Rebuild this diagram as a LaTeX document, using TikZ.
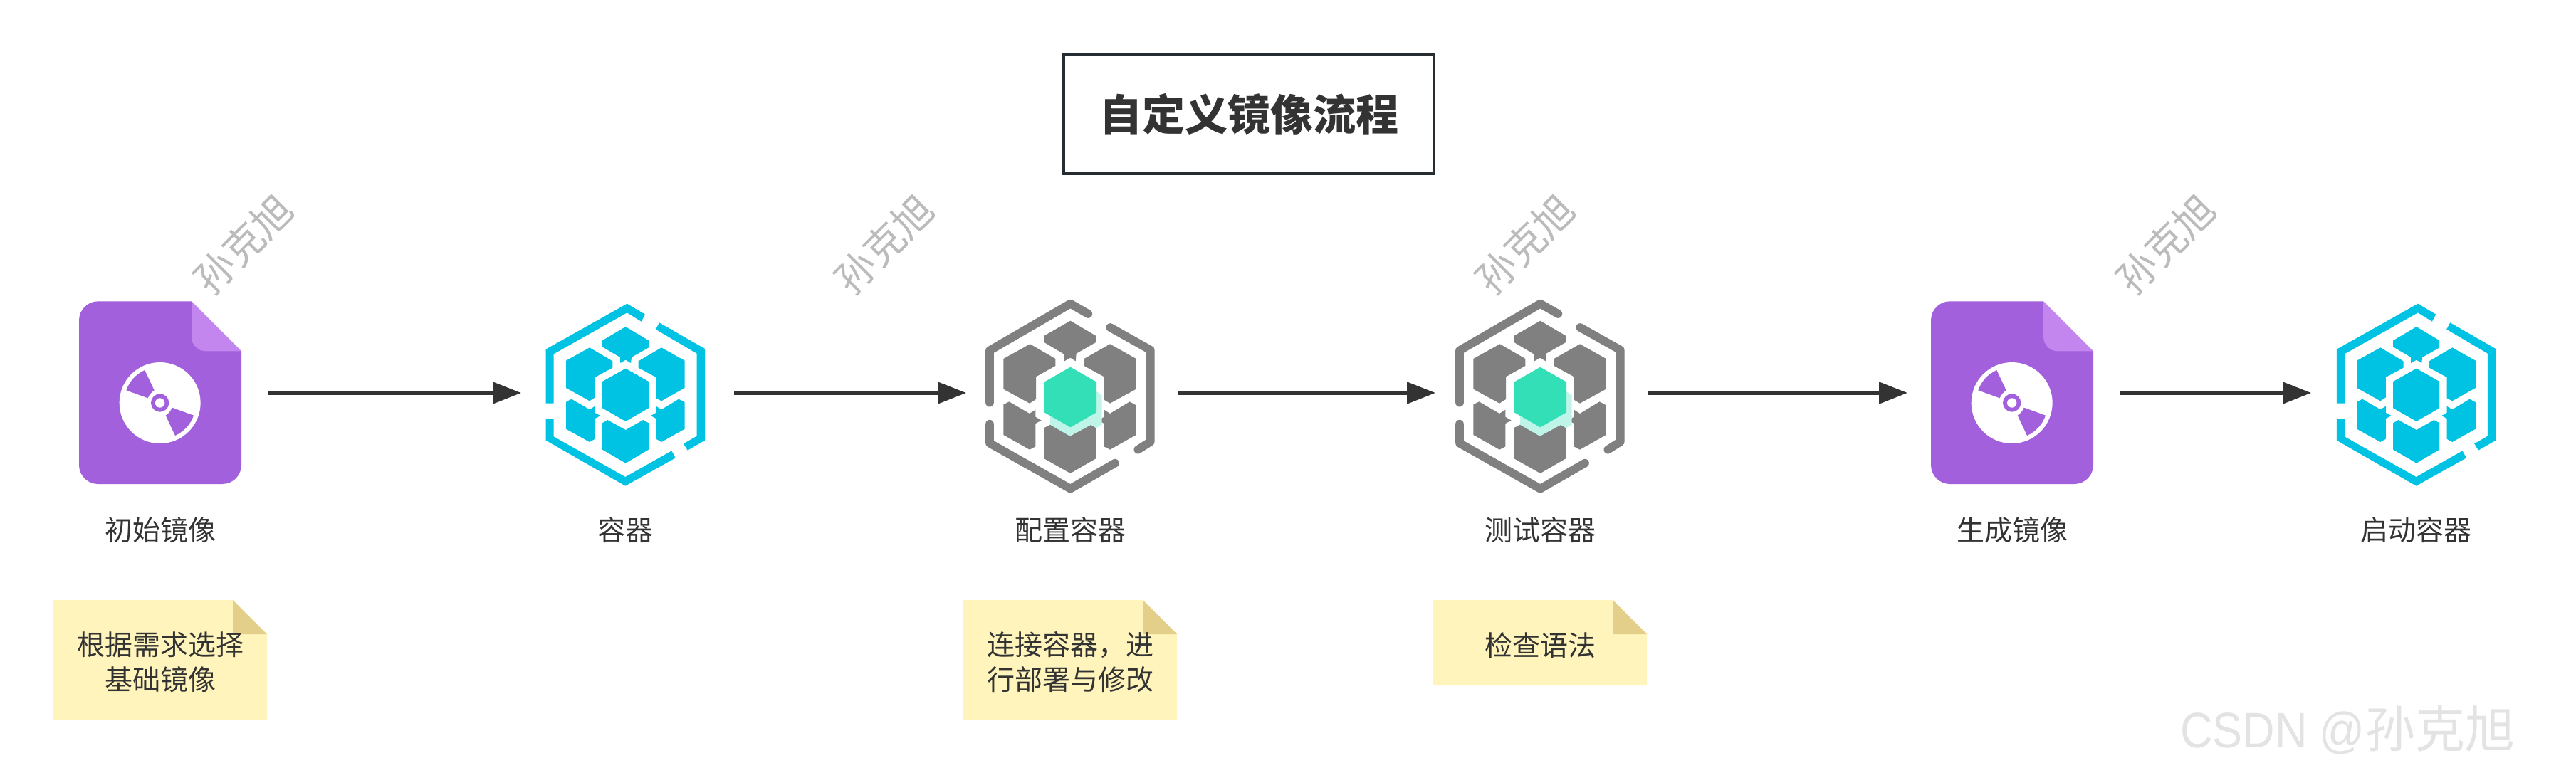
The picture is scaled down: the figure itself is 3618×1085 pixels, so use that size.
\documentclass[tikz,border=0pt]{standalone}
\usepackage{fontspec}
\usepackage{graphicx}
\usetikzlibrary{arrows.meta}
\setmainfont{Noto Sans CJK SC}
\newfontfamily\latinwm{Liberation Sans}
\definecolor{ink}{HTML}{333333}
\definecolor{framec}{HTML}{252D33}
\definecolor{docc}{HTML}{A260DC}
\definecolor{foldc}{HTML}{C286EE}
\definecolor{bluec}{HTML}{00C3E3}
\definecolor{grayc}{HTML}{808080}
\definecolor{tealc}{HTML}{32DFB6}
\definecolor{lighttealc}{HTML}{BFF5E8}
\definecolor{notec}{HTML}{FFF5BC}
\definecolor{notefold}{HTML}{E3CF8A}
\definecolor{wmc}{HTML}{BBBBBB}
\definecolor{csdnc}{HTML}{E3E3E3}
\tikzset{
  iconbox/.style={inner sep=0pt,outer sep=0pt,minimum height=250pt},
  lbl/.style={text=ink,inner sep=0pt,align=center,font=\fontsize{39}{49}\selectfont},
  flow/.style={draw=ink,line width=5pt,-{Triangle[length=40pt,width=30pt]}},
  wm/.style={text=wmc,rotate=45,inner sep=0pt,font=\fontsize{56}{56}\selectfont},
  zoomed/.style={x=0.33333pt,y=-0.33333pt},
  ring/.style={draw=grayc,line width=11.7pt,line cap=round,line join=round},
}
\newcommand{\docicon}[2]{%
\begin{scope}[shift={(#1,#2)},zoomed]
  \fill[docc] (233,130) -- (627,130) -- (837,340) -- (837,820) .. controls (837,864) and (801,900) .. (757,900)
    -- (233,900) .. controls (189,900) and (153,864) .. (153,820) -- (153,210) .. controls (153,166) and (189,130) .. (233,130) -- cycle;
  \fill[foldc] (627,130) -- (837,340) -- (687,340) .. controls (654,340) and (627,313) .. (627,280) -- cycle;
  \fill[white] (494,558) circle[radius=171];
  \fill[docc] (430,420) -- (470,505) .. controls (458,512) and (448,525) .. (443,538) -- (352,505) .. controls (366,466) and (392,438) .. (430,420) -- cycle;
  \fill[docc] (558,696) -- (518,611) .. controls (530,604) and (540,591) .. (545,578) -- (636,611) .. controls (622,650) and (596,678) .. (558,696) -- cycle;
  \fill[docc] (494,558) circle[radius=38];
  \fill[white] (494,558) circle[radius=20];
\end{scope}}
\newcommand{\bluehex}[2]{%
\begin{scope}[shift={(#1,#2)},zoomed]
  \fill[bluec] (498,125) -- (422,80) -- (80,272) -- (80,500) -- (113,500) -- (113,292) -- (422,118) -- (482,155) -- cycle;
  \fill[bluec] (558,160) -- (750,270) -- (750,656) -- (677,698) -- (660,670) -- (716,638) -- (716,290) -- (543,188) -- cycle;
  \fill[bluec] (80,565) -- (113,565) -- (113,640) -- (415,810) -- (610,700) -- (626,730) -- (415,848) -- (80,656) -- cycle;
  \fill[bluec] (416,177) -- (513,235) -- (513,265) -- (441,306) -- (438,330) -- (416,317) -- (393,330) -- (393,306) -- (318,262) -- (318,235) -- cycle;
  \fill[bluec] (264,265) -- (361,322) -- (361,350) -- (287,390) -- (287,475) -- (264,490) -- (165,435) -- (165,320) -- cycle;
  \fill[bluec] (567,265) -- (665,320) -- (665,435) -- (567,490) -- (544,478) -- (544,390) -- (470,350) -- (470,322) -- cycle;
  \fill[bluec] (416,353) -- (513,408) -- (513,520) -- (416,576) -- (318,520) -- (318,408) -- cycle;
  \fill[bluec] (188,482) -- (264,526) -- (287,512) -- (287,540) -- (310,552) -- (287,564) -- (287,650) -- (264,663) -- (165,608) -- (165,494) -- cycle;
  \fill[bluec] (640,482) -- (665,495) -- (665,608) -- (567,663) -- (544,650) -- (544,564) -- (522,552) -- (544,540) -- (544,512) -- (567,526) -- cycle;
  \fill[bluec] (340,570) -- (416,612) -- (490,570) -- (513,583) -- (513,695) -- (416,752) -- (318,695) -- (318,583) -- cycle;
\end{scope}}
\newcommand{\grayhex}[2]{%
\begin{scope}[shift={(#1,#2)},zoomed]
  \draw[ring] (505,123) -- (430,80) -- (90,277) -- (90,497);
  \draw[ring] (598,180) -- (767,275) -- (767,662) -- (715,695);
  \draw[ring] (90,587) -- (90,668) -- (430,860) -- (618,752);
  \fill[grayc] (430,152) -- (537,215) -- (537,243) -- (455,290) -- (452,322) -- (430,308) -- (405,322) -- (402,292) -- (320,243) -- (320,215) -- cycle;
  \fill[grayc] (260,250) -- (367,312) -- (367,342) -- (285,388) -- (285,483) -- (258,500) -- (148,440) -- (148,312) -- cycle;
  \fill[grayc] (597,250) -- (707,312) -- (707,440) -- (597,500) -- (572,485) -- (572,388) -- (488,342) -- (488,312) -- cycle;
  \fill[grayc] (172,493) -- (258,543) -- (283,527) -- (283,557) -- (308,572) -- (283,585) -- (283,682) -- (258,695) -- (148,633) -- (148,505) -- cycle;
  \fill[grayc] (680,493) -- (707,508) -- (707,633) -- (597,695) -- (572,682) -- (572,585) -- (548,572) -- (572,557) -- (572,527) -- (597,543) -- cycle;
  \fill[grayc] (320,603) -- (345,590) -- (430,638) -- (515,590) -- (537,603) -- (537,733) -- (430,795) -- (320,733) -- cycle;
  \fill[lighttealc] (540,450) -- (563,465) -- (563,590) -- (540,603) -- (518,590) -- (428,638) -- (345,590) -- (345,550) -- cycle;
  \fill[tealc] (430,347) -- (540,410) -- (540,538) -- (430,601) -- (320,538) -- (320,410) -- cycle;
\end{scope}}
\newcommand{\notepaper}[4]{% left, top, right, bottom
  \fill[notec] (#1,#2) -- (#3-48,#2) -- (#3,#2+48) -- (#3,#4) -- (#1,#4) -- cycle;
  \fill[notefold] (#3-48,#2) -- (#3,#2+48) -- (#3-48,#2+48) -- cycle;}
\begin{document}
\begin{tikzpicture}[x=1pt,y=-1pt]
\useasboundingbox (0,0) rectangle (3618,1085);
\fill[white] (0,0) rectangle (3618,1085);

\node[draw=framec,line width=4.5pt,minimum width=520pt,minimum height=168pt,inner sep=0pt,text=ink,font=\fontsize{60}{60}\selectfont\bfseries] (title) at (1754,160) {自定义镜像流程};

\docicon{60}{380}
\bluehex{740}{400}
\grayhex{1360}{400}
\grayhex{2020}{400}
\docicon{2661}{380}
\bluehex{3255.2}{400}

\node[iconbox,minimum width=228pt] (img1) at (225,552) {};
\node[iconbox,minimum width=223pt] (ctr1) at (878,552) {};
\node[iconbox,minimum width=238pt] (cfg) at (1503,552) {};
\node[iconbox,minimum width=238pt] (tst) at (2163,552) {};
\node[iconbox,minimum width=228pt] (img2) at (2826,552) {};
\node[iconbox,minimum width=223pt] (ctr2) at (3393.5,552) {};

\draw[flow,shorten <=38pt,shorten >=34.5pt] (img1.east) -- (ctr1.west);
\draw[flow,shorten <=41.5pt,shorten >=27pt] (ctr1.east) -- (cfg.west);
\draw[flow,shorten <=33pt,shorten >=28pt] (cfg.east) -- (tst.west);
\draw[flow,shorten <=33pt,shorten >=33pt] (tst.east) -- (img2.west);
\draw[flow,shorten <=38pt,shorten >=36pt] (img2.east) -- (ctr2.west);

\node[lbl] (l1) at (225,744.5) {初始镜像};
\node[lbl] (l2) at (878,744.5) {容器};
\node[lbl] (l3) at (1503,744.5) {配置容器};
\node[lbl] (l4) at (2163,744.5) {测试容器};
\node[lbl] (l5) at (2826,744.5) {生成镜像};
\node[lbl] (l6) at (3393,744.5) {启动容器};

\notepaper{75}{843}{375}{1011}
\notepaper{1353}{843}{1653}{1011}
\notepaper{2013}{843}{2313}{963}
\node[lbl] (n1) at (225,930) {根据需求选择\\基础镜像};
\node[lbl] (n2) at (1503,930) {连接容器，进\\行部署与修改};
\node[lbl] (n3) at (2163,907) {检查语法};

\node[wm] (w1) at (342,343) {孙克旭};
\node[wm] (w2) at (1242,343) {孙克旭};
\node[wm] (w3) at (2142,343) {孙克旭};
\node[wm] (w4) at (3042,343) {孙克旭};

\node[text=csdnc,inner sep=0pt,anchor=base,font=\fontsize{70}{70}\selectfont] (csdn) at (3297,1050) {\scalebox{.9}[1]{\latinwm CSDN @}孙克旭};
\end{tikzpicture}
\end{document}
